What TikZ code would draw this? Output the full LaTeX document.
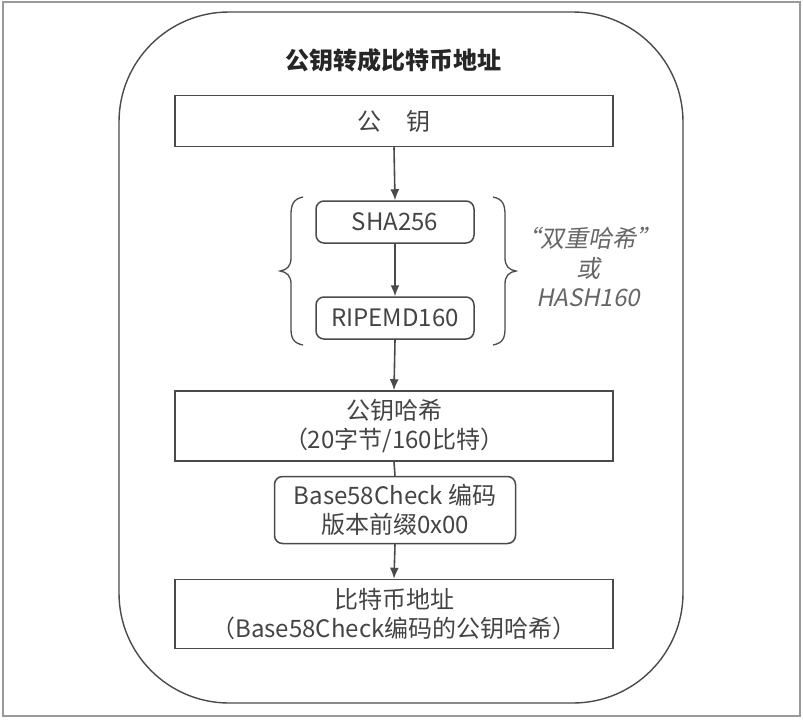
\documentclass[tikz,border=0pt]{standalone}
\usepackage{fontspec}
\setmainfont{Noto Sans CJK SC}
\newfontfamily\slfont[FakeSlant=0.2]{Noto Sans CJK SC}
\usetikzlibrary{arrows.meta}
\definecolor{linegray}{HTML}{4A4A4A}
\definecolor{txtgray}{HTML}{444444}
\definecolor{labgray}{HTML}{666666}
\begin{document}
\begin{tikzpicture}[x=1pt,y=-1pt,
  box/.style={draw=linegray,line width=1.5pt,inner sep=0pt,align=center,text=txtgray,
    font=\fontsize{24}{29}\selectfont},
  rbox/.style={box,rounded corners=8pt},
  arr/.style={draw=linegray,line width=1.6pt,-{Latex[length=11pt,width=9pt]}},
  brc/.style={draw=linegray,line width=1.3pt}]
\useasboundingbox (0,0) rectangle (803,720);
\draw[draw=gray!80,line width=1.5pt] (3,2) rectangle (800,716);
\draw[draw=linegray,line width=1.4pt,rounded corners=110pt] (119,12) rectangle (683,703);
\node[font=\bfseries\fontsize{24}{28}\selectfont,text=black!85] (title) at (393,60) {公钥转成比特币地址};
\node[box,minimum width=438pt,minimum height=51pt] (pk) at (394,121) {公\hspace{1.05em}钥};
\node[rbox,minimum width=158pt,minimum height=42pt] (sha) at (395,222) {SHA256};
\node[rbox,minimum width=158pt,minimum height=42pt] (rip) at (395,318) {RIPEMD160};
\node[box,minimum width=438pt,minimum height=70pt] (pkh) at (394,426) {公钥哈希\\（20字节/160比特）};
\node[rbox,minimum width=241pt,minimum height=67pt] (b58) at (395,510) {Base58Check 编码\\版本前缀0x00};
\node[box,minimum width=438pt,minimum height=69pt] (addr) at (394,614) {比特币地址\\（Base58Check编码的公钥哈希）};
\node[align=center,text=labgray,font=\slfont\fontsize{24}{29.5}\selectfont] (lab) at (588,267) {“双重哈希”\\或\\HASH160};
\draw[arr] (pk.south) -- (sha.north);
\draw[arr] (sha.south) -- (rip.north);
\draw[arr] (rip.south) -- (pkh.north);
\draw[draw=linegray,line width=1.6pt] (pkh.south) -- (b58.north);
\draw[arr] (b58.south) -- (addr.north);
% braces
\draw[brc] (303,197) .. controls (293,199) and (291,205) .. (291,215)
  -- (291,258) .. controls (291,266) and (287,270) .. (280,271)
  .. controls (287,272) and (291,276) .. (291,284)
  -- (291,328) .. controls (291,338) and (293,343) .. (303,345);
\draw[brc] (493,197) .. controls (503,199) and (505,205) .. (505,215)
  -- (505,258) .. controls (505,266) and (509,270) .. (516,271)
  .. controls (509,272) and (505,276) .. (505,284)
  -- (505,328) .. controls (505,338) and (503,343) .. (493,345);
\end{tikzpicture}
\end{document}
